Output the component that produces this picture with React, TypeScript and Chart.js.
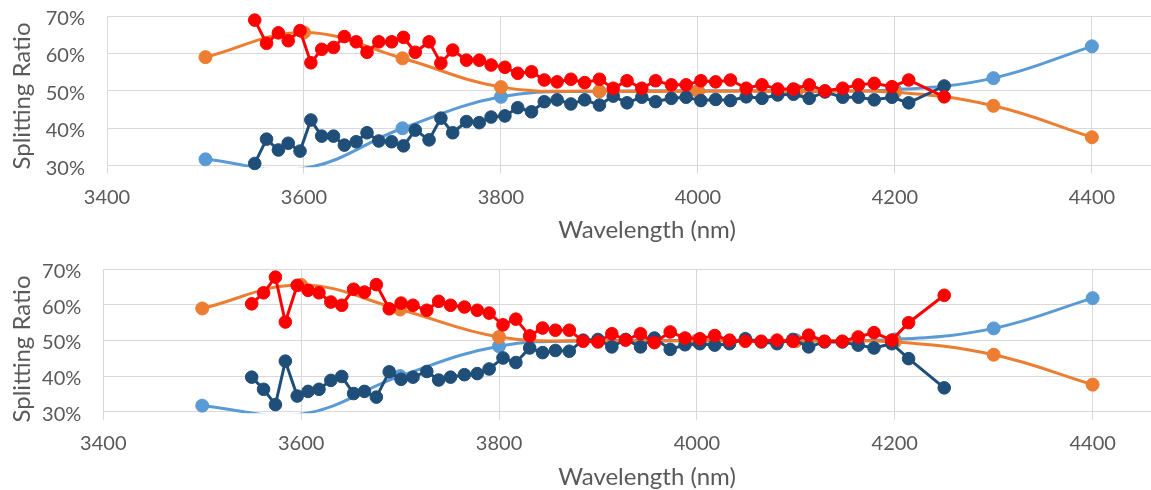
import React, { useEffect, useRef } from 'react';
import { Chart, registerables } from 'chart.js';

Chart.register(...registerables);

// ---- data ----
const wavelengths = [
  3550, 3562, 3574, 3584, 3596, 3607, 3618, 3630, 3641, 3653,
  3664, 3676, 3689, 3701, 3713, 3727, 3739, 3751, 3765, 3778,
  3790, 3804, 3817, 3831, 3844, 3857, 3871, 3885, 3900, 3914,
  3928, 3943, 3957, 3973, 3988, 4003, 4018, 4033, 4049, 4065,
  4081, 4097, 4113, 4129, 4147, 4163, 4179, 4197, 4214, 4250,
];

const topRed = [
  68.9, 62.7, 65.5, 63.4, 66.1, 57.5, 61.1, 61.6, 64.5, 63.1,
  60.3, 63.1, 63.1, 64.3, 60.3, 63.1, 57.4, 60.9, 58.2, 58.2,
  56.9, 56.3, 54.7, 55.1, 52.9, 52.4, 53.1, 52.2, 53.1, 50.7,
  52.7, 50.7, 52.7, 51.6, 51.6, 52.7, 52.4, 52.9, 50.7, 51.6,
  50.5, 50.5, 51.6, 50.0, 50.7, 51.6, 52.0, 51.1, 52.9, 48.4,
];

const topDark = [
  30.6, 37.1, 34.2, 36.0, 33.9, 42.2, 37.9, 37.9, 35.5, 36.4,
  38.8, 36.6, 36.4, 35.3, 39.5, 36.9, 42.7, 38.8, 41.8, 41.5,
  43.0, 43.3, 45.5, 44.4, 47.1, 47.6, 46.5, 47.6, 46.2, 48.6,
  46.8, 48.3, 47.1, 48.0, 48.3, 47.4, 47.7, 47.4, 48.4, 48.0,
  48.9, 49.1, 48.0, 49.7, 48.3, 48.3, 47.6, 48.3, 46.8, 51.3,
];

const bottomRed = [
  60.3, 63.4, 67.8, 55.2, 65.5, 64.1, 63.4, 60.8, 59.9, 64.4,
  63.6, 65.7, 58.9, 60.5, 59.9, 58.5, 61.0, 59.9, 59.4, 58.5,
  57.7, 54.4, 56.0, 51.3, 53.5, 52.9, 52.9, 49.8, 49.6, 51.9,
  50.1, 51.9, 49.4, 52.4, 50.7, 50.5, 51.4, 50.1, 49.8, 49.8,
  50.1, 49.8, 51.5, 49.8, 49.8, 51.0, 52.2, 50.1, 55.0, 62.7,
];

const bottomDark = [
  39.7, 36.3, 32.0, 44.2, 34.4, 35.7, 36.3, 38.8, 39.9, 35.1,
  35.7, 34.1, 41.2, 39.1, 39.7, 41.3, 38.9, 39.7, 40.4, 40.7,
  42.0, 45.1, 43.8, 47.9, 46.6, 47.2, 47.0, 50.1, 50.3, 48.2,
  50.3, 48.2, 50.7, 47.5, 48.8, 49.1, 48.7, 49.1, 50.5, 49.6,
  49.1, 50.3, 48.2, 49.6, 49.6, 48.7, 47.9, 49.1, 44.9, 36.7,
];

const modelWavelengths = [3500, 3600, 3700, 3800, 3900, 4000, 4100, 4200, 4300, 4400];
const modelBlue = [31.7, 29.3, 40.0, 48.4, 49.9, 50.0, 50.1, 50.3, 53.4, 61.9];
const modelOrange = [59.0, 65.6, 58.7, 51.0, 49.9, 49.9, 49.8, 49.6, 46.0, 37.6];

const xTickValues = [3400, 3600, 3800, 4000, 4200, 4400];
const yTickValues = [30, 40, 50, 60, 70];
const xTitleText = 'Wavelength (nm)';
const yTitleText = 'Splitting Ratio';

// ---- styles ----
const RED = '#FF0000';
const DARK = '#1F4E79';
const ORANGE = '#ED7D31';
const BLUE = '#5B9BD5';
const GRID = '#D9D9D9';
const TEXT = '#595959';
const FONT = 'Lato';

const titlePlugin = {
  id: 'axisTitles',
  afterDraw(chart: any, _args: any, opts: any) {
    const ctx = chart.ctx;
    ctx.save();
    ctx.fillStyle = TEXT;
    ctx.font = `${opts.size}px ${FONT}`;
    ctx.textAlign = 'center';
    ctx.textBaseline = 'alphabetic';
    ctx.fillText(opts.xText, opts.xCx, opts.xBase);
    ctx.translate(opts.yBase, opts.yCy);
    ctx.rotate(-Math.PI / 2);
    ctx.fillText(opts.yText, 0, 0);
    ctx.restore();
  },
};

type Geo = { left: number; top: number; bottom: number; xMax: number; yCy: number; xBase: number };

const H = 245;
const W = 1151;

function Panel({ red, dark, g }: { red: number[]; dark: number[]; g: Geo }) {
  const ref = useRef<HTMLCanvasElement | null>(null);
  useEffect(() => {
    if (!ref.current) return;
    const toXY = (xs: number[], ys: number[]) => xs.map((x, i) => ({ x, y: ys[i] }));
    const chart = new Chart(ref.current, {
      type: 'line',
      data: {
        datasets: [
          {
            label: 'Measured 1',
            data: toXY(wavelengths, red),
            borderColor: RED,
            backgroundColor: RED,
            pointBackgroundColor: RED,
            pointBorderColor: RED,
            borderWidth: 3,
            pointRadius: 6.3,
            pointBorderWidth: 1,
            tension: 0,
            clip: false,
          },
          {
            label: 'Measured 2',
            data: toXY(wavelengths, dark),
            borderColor: DARK,
            backgroundColor: DARK,
            pointBackgroundColor: DARK,
            pointBorderColor: DARK,
            borderWidth: 3,
            pointRadius: 6.3,
            pointBorderWidth: 1,
            tension: 0,
            clip: false,
          },
          {
            label: 'Model 1',
            data: toXY(modelWavelengths, modelOrange),
            borderColor: ORANGE,
            backgroundColor: ORANGE,
            pointBackgroundColor: ORANGE,
            pointBorderColor: ORANGE,
            borderWidth: 3,
            pointRadius: 6.5,
            pointBorderWidth: 1,
            tension: 0.4,
            clip: false,
          },
          {
            label: 'Model 2',
            data: toXY(modelWavelengths, modelBlue),
            borderColor: BLUE,
            backgroundColor: BLUE,
            pointBackgroundColor: BLUE,
            pointBorderColor: BLUE,
            borderWidth: 3,
            pointRadius: (c: any) => (c.raw && c.raw.y < 30 ? 0 : 6.5),
            pointBorderWidth: 1,
            tension: 0.4,
            clip: { left: false, right: false, top: false, bottom: 1.5 },
          },
        ] as any,
      },
      options: {
        responsive: false,
        animation: false,
        devicePixelRatio: 1,
        events: [],
        layout: { autoPadding: false, padding: { left: 0, right: 0, top: g.top, bottom: 0 } },
        plugins: {
          legend: { display: false },
          tooltip: { enabled: false },
          axisTitles: {
            size: 24,
            xText: xTitleText,
            yText: yTitleText,
            xCx: 647,
            xBase: g.xBase,
            yCy: g.yCy,
            yBase: 30,
          },
        } as any,
        scales: {
          x: {
            type: 'linear',
            min: 3400,
            max: g.xMax,
            afterBuildTicks: (s: any) => {
              s.ticks = xTickValues.map((v) => ({ value: v }));
            },
            afterFit: (s: any) => {
              s.height = H - g.bottom;
              s.paddingLeft = 0;
              s.paddingRight = 0;
            },
            grid: { color: GRID, lineWidth: 1, drawTicks: true, tickLength: 8 },
            border: { color: GRID, width: 1 },
            ticks: {
              font: { family: FONT, size: 20 },
              color: TEXT,
              padding: 12,
              maxRotation: 0,
              autoSkip: false,
              callback: (v: any) => String(v),
            },
          },
          y: {
            type: 'linear',
            min: 30,
            max: 70,
            afterBuildTicks: (s: any) => {
              s.ticks = yTickValues.map((v) => ({ value: v }));
            },
            afterFit: (s: any) => {
              s.width = g.left;
              s.paddingTop = 0;
              s.paddingBottom = 0;
            },
            grid: { color: GRID, lineWidth: 1, drawTicks: false },
            border: { color: GRID, width: 1 },
            ticks: {
              font: { family: FONT, size: 20 },
              color: TEXT,
              padding: 22,
              labelOffset: 2.5,
              callback: (v: any) => `${v}%`,
            },
          },
        },
      } as any,
      plugins: [titlePlugin as any],
    });
    return () => chart.destroy();
  }, [red, dark, g]);
  return <canvas ref={ref} width={W} height={H} style={{ display: 'block', width: W, height: H }} />;
}

const topGeo: Geo = { left: 107, top: 16, bottom: 165.7, xMax: 4460, yCy: 96, xBase: 238 };
const bottomGeo: Geo = { left: 103.3, top: 24.3, bottom: 166.7, xMax: 4459, yCy: 104, xBase: 240 };

export default function App() {
  return (
    <div style={{ position: 'absolute', left: 0, top: 0, width: W, height: 2 * H, background: '#fff', overflow: 'hidden' }}>
      <Panel red={topRed} dark={topDark} g={topGeo} />
      <Panel red={bottomRed} dark={bottomDark} g={bottomGeo} />
    </div>
  );
}
